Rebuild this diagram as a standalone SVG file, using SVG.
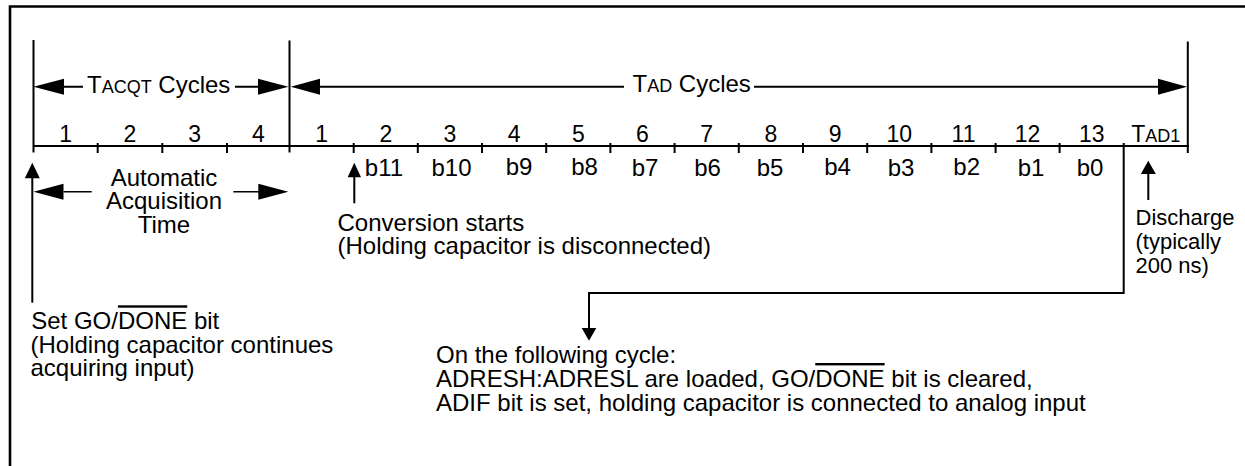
<svg xmlns="http://www.w3.org/2000/svg" width="1245" height="466" viewBox="0 0 1245 466">
<style>
.ln{stroke:#000;stroke-width:2;fill:none}
.fr{stroke:#000;stroke-width:2.6;fill:none}
.thin{stroke:#000;stroke-width:1.5;fill:none}
.ah{fill:#000;stroke:none}
text{font-family:"Liberation Sans",Arial,sans-serif;fill:#000}
.t{font-size:24px}
.d{font-size:22px}
.n{font-size:23px;text-anchor:middle}
.b{font-size:24px;text-anchor:middle}
.sc{font-size:18px}
.ov{text-decoration:overline}
</style>
<g id="frame">
<path class="fr" d="M10,466 V6.5 H1245"/>
</g>
<g id="timeline">
<path class="ln" d="M33.5,40 V152.5 M289.5,40.5 V152.5 M1187.8,41.5 V153 M33.5,146 H1189"/>
<path class="ln" d="M97.7,143 V153 M162.3,143 V153 M227,143 V153 M353.7,143 V153 M417.8,143 V153 M482,143 V153 M546.2,143 V153 M610.4,143 V153 M674.6,143 V153 M738.8,143 V153 M803,143 V153 M867.2,143 V153 M931.4,143 V153 M995.6,143 V153 M1059.6,143 V153"/>
</g>
<g id="acq-cycles">
<path class="ln" d="M64,86.7 H83 M235,86.7 H259"/>
<polygon class="ah" points="33.5,86.7 64,78.7 64,94.7"/>
<polygon class="ah" points="288.5,86.7 258,78.7 258,94.7"/>
<text class="t" x="87" y="92.7">T<tspan class="sc">ACQT</tspan> Cycles</text>
</g>
<g id="tad-cycles">
<path class="ln" d="M320,86.7 H624 M754,86.7 H1159"/>
<polygon class="ah" points="290.7,86.7 320,78.7 320,94.7"/>
<polygon class="ah" points="1187,86.7 1158,78.7 1158,94.7"/>
<text class="t" x="632.5" y="92.2">T<tspan class="sc">AD</tspan> Cycles</text>
</g>
<g id="cycle-numbers">
<text class="n" x="65.6" y="141.7">1</text>
<text class="n" x="130" y="141.7">2</text>
<text class="n" x="194.6" y="141.7">3</text>
<text class="n" x="258.3" y="141.7">4</text>
<text class="n" x="321.6" y="141.7">1</text>
<text class="n" x="385.8" y="141.7">2</text>
<text class="n" x="450" y="141.7">3</text>
<text class="n" x="514.1" y="141.7">4</text>
<text class="n" x="578.3" y="141.7">5</text>
<text class="n" x="642.5" y="141.7">6</text>
<text class="n" x="706.7" y="141.7">7</text>
<text class="n" x="770.9" y="141.7">8</text>
<text class="n" x="835.1" y="141.7">9</text>
<text class="n" x="899.3" y="141.7">10</text>
<text class="n" x="963.5" y="141.7">11</text>
<text class="n" x="1027.6" y="141.7">12</text>
<text class="n" x="1091.7" y="141.7">13</text>
<text class="n" x="1155.8" y="142">T<tspan class="sc">AD1</tspan></text>
</g>
<g id="bits">
<text class="b" x="384" y="176">b11</text>
<text class="b" x="451.5" y="176">b10</text>
<text class="b" x="519" y="174.5">b9</text>
<text class="b" x="584.5" y="174.5">b8</text>
<text class="b" x="645" y="176">b7</text>
<text class="b" x="707.5" y="176">b6</text>
<text class="b" x="770" y="176">b5</text>
<text class="b" x="837.5" y="174.5">b4</text>
<text class="b" x="901" y="176">b3</text>
<text class="b" x="966.7" y="174.5">b2</text>
<text class="b" x="1031" y="176">b1</text>
<text class="b" x="1090" y="176">b0</text>
</g>
<g id="acquisition-time">
<path class="thin" d="M63.5,191.7 H91.7 M233.3,191.7 H259"/>
<polygon class="ah" points="33.5,191.7 63.5,183.7 63.5,199.7"/>
<polygon class="ah" points="288.3,191.7 258.3,183.7 258.3,199.7"/>
<text class="t" text-anchor="middle" x="164" y="185.7">Automatic<tspan x="164" dy="23.7">Acquisition</tspan><tspan x="164" dy="23.7">Time</tspan></text>
</g>
<g id="set-go">
<path class="ln" d="M32.3,302.7 V177"/>
<polygon class="ah" points="32.3,162.7 24.8,178.3 39.8,178.3"/>
<text class="t" x="31.2" y="329.3">Set GO/<tspan class="ov">DONE</tspan> bit<tspan x="30.5" dy="23.2">(Holding capacitor continues</tspan><tspan x="30.5" dy="23.2">acquiring input)</tspan></text>
</g>
<g id="conversion-starts">
<path class="ln" d="M354.3,203.3 V176"/>
<polygon class="ah" points="354.3,162.7 347.7,177.3 361,177.3"/>
<text class="t" x="337.5" y="230.5">Conversion starts<tspan x="337.5" dy="23.3">(Holding capacitor is disconnected)</tspan></text>
</g>
<g id="discharge">
<path class="ln" d="M1148.3,200 V173"/>
<polygon class="ah" points="1148.3,160.7 1140.8,174 1155.8,174"/>
<text class="d" x="1135.5" y="225">Discharge<tspan x="1135.5" dy="24">(typically</tspan><tspan x="1135.5" dy="24">200 ns)</tspan></text>
</g>
<g id="connectors">
<path class="ln" d="M1123.7,143 V293 H589 V329"/>
<polygon class="ah" points="589,340.7 581.7,328 596.3,328"/>
</g>
<g id="following-cycle">
<text class="t" x="436" y="362.7">On the following cycle:<tspan x="436" dy="24.3">ADRESH:ADRESL are loaded, GO/<tspan class="ov">DONE</tspan> bit is cleared,</tspan><tspan x="436" dy="23.7">ADIF bit is set, holding capacitor is connected to analog input</tspan></text>
</g>
</svg>
